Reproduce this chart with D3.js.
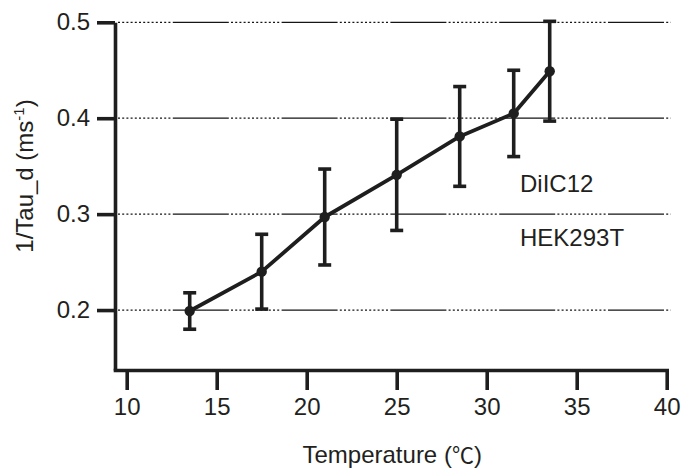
<!DOCTYPE html>
<html>
<head>
<meta charset="utf-8">
<script src="https://cdn.jsdelivr.net/npm/d3@7"></script>
<style>
  html, body { margin: 0; padding: 0; background: #fff; }
  svg { display: block; }
  text { font-family: "Liberation Sans", Arial, sans-serif; fill: #231f20; }
</style>
</head>
<body>
<script>
// ---- data ----
const temperatures = [13.5, 17.5, 21, 25, 28.5, 31.5, 33.5];
const rates = [0.199, 0.240, 0.297, 0.341, 0.381, 0.405, 0.449];
const errors = [0.019, 0.039, 0.050, 0.058, 0.052, 0.045, 0.052];
const xTicks = [10, 15, 20, 25, 30, 35, 40];
const yTicks = [0.2, 0.3, 0.4, 0.5];
const annotations = ["DiIC12", "HEK293T"];

const W = 686, H = 472;
const svg = d3.select("body").append("svg").attr("width", W).attr("height", H);

const x = d3.scaleLinear().domain([9.35, 40]).range([115, 666.7]);
const y = d3.scaleLinear().domain([0.1375, 0.5]).range([370, 22.3]);

const ink = "#1e1e1e";

// gridlines (dash pattern: dotted run + solid run)
let dots = [];
for (let i = 0; i < 13; i++) dots.push(2, 2.2);
dots[dots.length - 1] = 2.4;
const dash = dots.concat([54, 0]).join(",");
const grid = svg.append("g");
grid.selectAll("line").data(yTicks).join("line")
  .attr("x1", x.range()[0] + 3).attr("x2", x(40) + 4)
  .attr("y1", d => y(d)).attr("y2", d => y(d))
  .attr("stroke", "#151515").attr("stroke-width", 1.2)
  .attr("stroke-dasharray", dash);

// axes
const yAxis = d3.axisLeft(y).tickValues(yTicks).tickFormat(d3.format(".1f"))
  .tickSize(18).tickSizeOuter(0).tickPadding(7);
const gy = svg.append("g").attr("transform", `translate(${x.range()[0]},0)`).call(yAxis);
const xAxis = d3.axisBottom(x).tickValues(xTicks).tickFormat(d3.format("d"))
  .tickSize(20).tickSizeOuter(0).tickPadding(8);
const gx = svg.append("g").attr("transform", `translate(0,${y.range()[0]})`).call(xAxis);

[gx, gy].forEach(g => {
  g.select(".domain").attr("stroke", ink).attr("stroke-width", 3.6);
  g.selectAll(".tick line").attr("stroke", ink).attr("stroke-width", 3.6);
  g.selectAll(".tick text").attr("font-size", 24).attr("fill", "#231f20")
    .attr("font-family", "'Liberation Sans', Arial, sans-serif");
});
gx.select(".domain").attr("stroke-linecap", "square");

// data
const pts = temperatures.map((t, i) => ({t, v: rates[i], e: errors[i]}));
const capW = 6.5;
const eb = svg.append("g").attr("stroke", ink).attr("stroke-width", 3.6);
eb.selectAll(".v").data(pts).join("line")
  .attr("x1", d => x(d.t)).attr("x2", d => x(d.t))
  .attr("y1", d => y(d.v - d.e)).attr("y2", d => y(d.v + d.e));
eb.selectAll(".ct").data(pts).join("line")
  .attr("x1", d => x(d.t) - capW).attr("x2", d => x(d.t) + capW)
  .attr("y1", d => y(d.v + d.e)).attr("y2", d => y(d.v + d.e));
eb.selectAll(".cb").data(pts).join("line")
  .attr("x1", d => x(d.t) - capW).attr("x2", d => x(d.t) + capW)
  .attr("y1", d => y(d.v - d.e)).attr("y2", d => y(d.v - d.e));

svg.append("path").datum(pts)
  .attr("d", d3.line().x(d => x(d.t)).y(d => y(d.v)))
  .attr("fill", "none").attr("stroke", ink).attr("stroke-width", 3.8)
  .attr("stroke-linejoin", "round");

svg.append("g").selectAll("circle").data(pts).join("circle")
  .attr("cx", d => x(d.t)).attr("cy", d => y(d.v)).attr("r", 5.2)
  .attr("fill", ink);

// annotations
svg.append("text").attr("x", x(31.85)).attr("y", y(0.323)).attr("font-size", 24).text(annotations[0]);
svg.append("text").attr("x", x(31.85)).attr("y", y(0.2668)).attr("font-size", 24).text(annotations[1]);

// axis titles
const xl = svg.append("text").attr("x", x(24.75)).attr("y", 463).attr("text-anchor", "middle")
  .attr("font-size", 24);
xl.append("tspan").text("Temperature (");
xl.append("tspan").attr("font-family", "'Noto Sans CJK SC', sans-serif").attr("font-size", 22).text("℃");
xl.append("tspan").text(")");

const yl = svg.append("text").attr("transform", "translate(33,176) rotate(-90)")
  .attr("text-anchor", "middle").attr("font-size", 24);
yl.append("tspan").text("1/Tau_d (ms");
yl.append("tspan").attr("font-size", 15).attr("dy", -9).text("-1");
yl.append("tspan").attr("dy", 9).text(")");
</script>
</body>
</html>
